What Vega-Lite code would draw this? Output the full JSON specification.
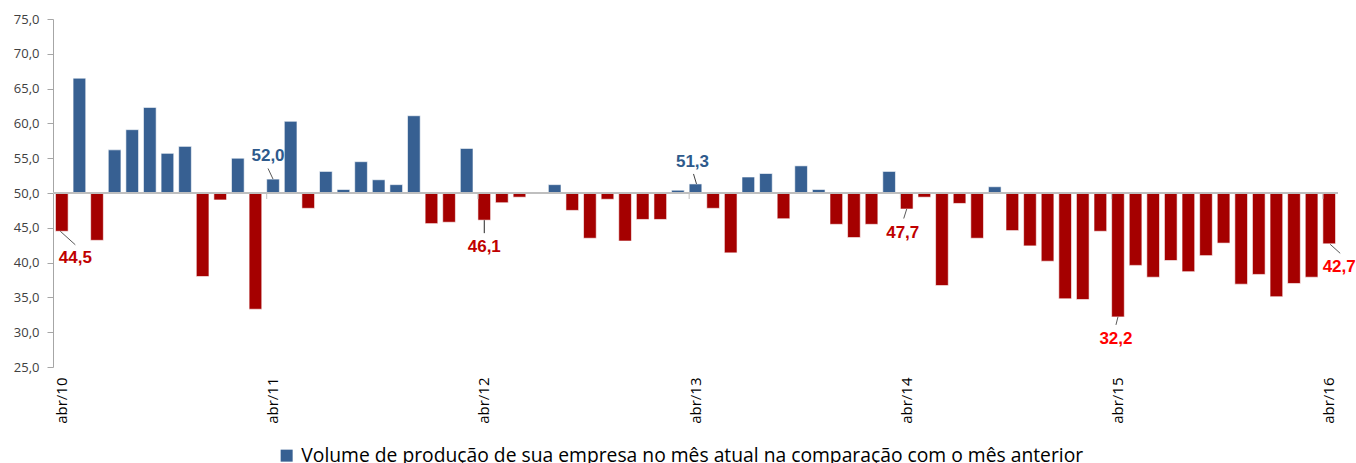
{
  "$schema": "https://vega.github.io/schema/vega-lite/v6.json",
  "autosize": {"type": "none"},
  "width": 1285,
  "height": 348,
  "padding": {"left": 53, "top": 19, "right": 18, "bottom": 96},
  "background": "#ffffff",
  "config": {
    "view": {"stroke": null},
    "locale": {"number": {"decimal": ",", "thousands": ".", "grouping": [3], "currency": ["R$", ""]}},
    "font": "Open Sans"
  },
  "data": {"values": [
    {"mes": "abr/10", "valor": 44.5, "serie": "abaixo"},
    {"mes": "mai/10", "valor": 66.5, "serie": "acima"},
    {"mes": "jun/10", "valor": 43.2, "serie": "abaixo"},
    {"mes": "jul/10", "valor": 56.2, "serie": "acima"},
    {"mes": "ago/10", "valor": 59.1, "serie": "acima"},
    {"mes": "set/10", "valor": 62.3, "serie": "acima"},
    {"mes": "out/10", "valor": 55.7, "serie": "acima"},
    {"mes": "nov/10", "valor": 56.7, "serie": "acima"},
    {"mes": "dez/10", "valor": 38.0, "serie": "abaixo"},
    {"mes": "jan/11", "valor": 49.0, "serie": "abaixo"},
    {"mes": "fev/11", "valor": 55.0, "serie": "acima"},
    {"mes": "mar/11", "valor": 33.3, "serie": "abaixo"},
    {"mes": "abr/11", "valor": 52.0, "serie": "acima"},
    {"mes": "mai/11", "valor": 60.3, "serie": "acima"},
    {"mes": "jun/11", "valor": 47.8, "serie": "abaixo"},
    {"mes": "jul/11", "valor": 53.1, "serie": "acima"},
    {"mes": "ago/11", "valor": 50.5, "serie": "acima"},
    {"mes": "set/11", "valor": 54.5, "serie": "acima"},
    {"mes": "out/11", "valor": 51.9, "serie": "acima"},
    {"mes": "nov/11", "valor": 51.2, "serie": "acima"},
    {"mes": "dez/11", "valor": 61.1, "serie": "acima"},
    {"mes": "jan/12", "valor": 45.6, "serie": "abaixo"},
    {"mes": "fev/12", "valor": 45.8, "serie": "abaixo"},
    {"mes": "mar/12", "valor": 56.4, "serie": "acima"},
    {"mes": "abr/12", "valor": 46.1, "serie": "abaixo"},
    {"mes": "mai/12", "valor": 48.6, "serie": "abaixo"},
    {"mes": "jun/12", "valor": 49.4, "serie": "abaixo"},
    {"mes": "jul/12", "valor": 50.1, "serie": "acima"},
    {"mes": "ago/12", "valor": 51.2, "serie": "acima"},
    {"mes": "set/12", "valor": 47.5, "serie": "abaixo"},
    {"mes": "out/12", "valor": 43.5, "serie": "abaixo"},
    {"mes": "nov/12", "valor": 49.1, "serie": "abaixo"},
    {"mes": "dez/12", "valor": 43.1, "serie": "abaixo"},
    {"mes": "jan/13", "valor": 46.2, "serie": "abaixo"},
    {"mes": "fev/13", "valor": 46.2, "serie": "abaixo"},
    {"mes": "mar/13", "valor": 50.4, "serie": "acima"},
    {"mes": "abr/13", "valor": 51.3, "serie": "acima"},
    {"mes": "mai/13", "valor": 47.8, "serie": "abaixo"},
    {"mes": "jun/13", "valor": 41.4, "serie": "abaixo"},
    {"mes": "jul/13", "valor": 52.3, "serie": "acima"},
    {"mes": "ago/13", "valor": 52.8, "serie": "acima"},
    {"mes": "set/13", "valor": 46.3, "serie": "abaixo"},
    {"mes": "out/13", "valor": 53.9, "serie": "acima"},
    {"mes": "nov/13", "valor": 50.5, "serie": "acima"},
    {"mes": "dez/13", "valor": 45.5, "serie": "abaixo"},
    {"mes": "jan/14", "valor": 43.6, "serie": "abaixo"},
    {"mes": "fev/14", "valor": 45.5, "serie": "abaixo"},
    {"mes": "mar/14", "valor": 53.1, "serie": "acima"},
    {"mes": "abr/14", "valor": 47.7, "serie": "abaixo"},
    {"mes": "mai/14", "valor": 49.4, "serie": "abaixo"},
    {"mes": "jun/14", "valor": 36.7, "serie": "abaixo"},
    {"mes": "jul/14", "valor": 48.5, "serie": "abaixo"},
    {"mes": "ago/14", "valor": 43.5, "serie": "abaixo"},
    {"mes": "set/14", "valor": 50.9, "serie": "acima"},
    {"mes": "out/14", "valor": 44.6, "serie": "abaixo"},
    {"mes": "nov/14", "valor": 42.4, "serie": "abaixo"},
    {"mes": "dez/14", "valor": 40.2, "serie": "abaixo"},
    {"mes": "jan/15", "valor": 34.8, "serie": "abaixo"},
    {"mes": "fev/15", "valor": 34.7, "serie": "abaixo"},
    {"mes": "mar/15", "valor": 44.5, "serie": "abaixo"},
    {"mes": "abr/15", "valor": 32.2, "serie": "abaixo"},
    {"mes": "mai/15", "valor": 39.6, "serie": "abaixo"},
    {"mes": "jun/15", "valor": 37.9, "serie": "abaixo"},
    {"mes": "jul/15", "valor": 40.3, "serie": "abaixo"},
    {"mes": "ago/15", "valor": 38.7, "serie": "abaixo"},
    {"mes": "set/15", "valor": 41.0, "serie": "abaixo"},
    {"mes": "out/15", "valor": 42.8, "serie": "abaixo"},
    {"mes": "nov/15", "valor": 36.9, "serie": "abaixo"},
    {"mes": "dez/15", "valor": 38.3, "serie": "abaixo"},
    {"mes": "jan/16", "valor": 35.1, "serie": "abaixo"},
    {"mes": "fev/16", "valor": 37.0, "serie": "abaixo"},
    {"mes": "mar/16", "valor": 37.9, "serie": "abaixo"},
    {"mes": "abr/16", "valor": 42.7, "serie": "abaixo"}
  ]},
  "encoding": {
    "x": {
      "field": "mes", "type": "ordinal", "sort": null, "title": null,
      "scale": {"paddingInner": 0.28, "paddingOuter": 0.14},
      "axis": {
        "values": ["abr/10", "abr/11", "abr/12", "abr/13", "abr/14", "abr/15", "abr/16"],
        "labelAngle": -90, "labelAlign": "right", "labelBaseline": "middle",
        "labelPadding": 10, "ticks": false, "domain": false,
        "labelFont": "Open Sans", "labelFontSize": 15, "labelColor": "#000000"
      }
    },
    "y": {
      "field": "valor", "type": "quantitative", "title": null,
      "scale": {"domain": [25, 75], "nice": false, "zero": false},
      "axis": {
        "values": [25, 30, 35, 40, 45, 50, 55, 60, 65, 70, 75],
        "format": ".1f", "grid": false,
        "domainColor": "#a6a6a6", "tickColor": "#a6a6a6", "tickSize": 6,
        "labelPadding": 8, "labelFont": "Open Sans", "labelFontSize": 13, "labelColor": "#404040"
      }
    }
  },
  "layer": [
    {
      "mark": {"type": "bar", "stroke": "#ffffff", "strokeWidth": 0.6},
      "encoding": {
        "y2": {"datum": 50},
        "color": {
          "field": "serie", "type": "nominal",
          "scale": {"domain": ["acima", "abaixo"], "range": ["#376092", "#a50000"]},
          "legend": {
            "values": ["acima"], "title": null, "orient": "none",
            "legendX": 224, "legendY": 427, "symbolType": "square", "symbolSize": 144,
            "symbolStrokeWidth": 0, "labelFont": "Open Sans", "labelFontSize": 19.3,
            "labelColor": "#000000", "labelLimit": 0, "labelOffset": 5,
            "labelExpr": "'Volume de produção de sua empresa no mês atual na comparação com o mês anterior'"
          }
        }
      }
    },
    {
      "mark": {"type": "rule", "color": "#bfbfbf", "strokeWidth": 2},
      "encoding": {"x": null, "y": {"datum": 50}}
    },
    {
      "transform": [{"filter": "indexof(datum.mes, 'abr/') === 0 && datum.mes !== 'abr/10'"}],
      "mark": {"type": "rule", "color": "#bfbfbf", "strokeWidth": 1},
      "encoding": {
        "x": {"field": "mes", "type": "ordinal", "sort": null, "bandPosition": 0},
        "y": {"datum": 50},
        "y2": {"datum": 49.14}
      }
    },
    {
      "transform": [{"filter": "datum.mes === 'abr/10'"}],
      "layer": [
        {"mark": {"type": "rule", "color": "#595959", "strokeWidth": 1, "xOffset": -1.5, "x2Offset": 13.5, "yOffset": 0, "y2Offset": 13.5},
         "encoding": {"x": {"field": "mes", "type": "ordinal", "sort": null, "bandPosition": 0.5}, "x2": {"field": "mes", "bandPosition": 0.5}, "y2": {"field": "valor"}}},
        {"mark": {"type": "text", "font": "Liberation Sans", "fontWeight": "bold", "fontSize": 17, "color": "#c00000", "dx": 13.5, "dy": 27, "baseline": "middle"},
         "encoding": {"text": {"field": "valor", "type": "quantitative", "format": ".1f"}}}
      ]
    },
    {
      "transform": [{"filter": "datum.mes === 'abr/11'"}],
      "layer": [
        {"mark": {"type": "rule", "color": "#595959", "strokeWidth": 1, "xOffset": -5, "x2Offset": 0, "yOffset": -10.6, "y2Offset": 0},
         "encoding": {"x": {"field": "mes", "type": "ordinal", "sort": null, "bandPosition": 0.5}, "x2": {"field": "mes", "bandPosition": 0.5}, "y2": {"field": "valor"}}},
        {"mark": {"type": "text", "font": "Liberation Sans", "fontWeight": "bold", "fontSize": 17, "color": "#2e5a8c", "dx": -5, "dy": -22.6, "baseline": "middle"},
         "encoding": {"text": {"field": "valor", "type": "quantitative", "format": ".1f"}}}
      ]
    },
    {
      "transform": [{"filter": "datum.mes === 'abr/12'"}],
      "layer": [
        {"mark": {"type": "rule", "color": "#262626", "strokeWidth": 1, "xOffset": 0, "x2Offset": 0, "yOffset": 0, "y2Offset": 13},
         "encoding": {"x": {"field": "mes", "type": "ordinal", "sort": null, "bandPosition": 0.5}, "x2": {"field": "mes", "bandPosition": 0.5}, "y2": {"field": "valor"}}},
        {"mark": {"type": "text", "font": "Liberation Sans", "fontWeight": "bold", "fontSize": 17, "color": "#c00000", "dx": 0, "dy": 27, "baseline": "middle"},
         "encoding": {"text": {"field": "valor", "type": "quantitative", "format": ".1f"}}}
      ]
    },
    {
      "transform": [{"filter": "datum.mes === 'abr/13'"}],
      "layer": [
        {"mark": {"type": "rule", "color": "#404040", "strokeWidth": 1, "xOffset": -2, "x2Offset": 1, "yOffset": -10, "y2Offset": 0},
         "encoding": {"x": {"field": "mes", "type": "ordinal", "sort": null, "bandPosition": 0.5}, "x2": {"field": "mes", "bandPosition": 0.5}, "y2": {"field": "valor"}}},
        {"mark": {"type": "text", "font": "Liberation Sans", "fontWeight": "bold", "fontSize": 17, "color": "#2e5a8c", "dx": -3, "dy": -22, "baseline": "middle"},
         "encoding": {"text": {"field": "valor", "type": "quantitative", "format": ".1f"}}}
      ]
    },
    {
      "transform": [{"filter": "datum.mes === 'abr/14'"}],
      "layer": [
        {"mark": {"type": "rule", "color": "#595959", "strokeWidth": 1, "xOffset": 0, "x2Offset": -3, "yOffset": 0, "y2Offset": 9.5},
         "encoding": {"x": {"field": "mes", "type": "ordinal", "sort": null, "bandPosition": 0.5}, "x2": {"field": "mes", "bandPosition": 0.5}, "y2": {"field": "valor"}}},
        {"mark": {"type": "text", "font": "Liberation Sans", "fontWeight": "bold", "fontSize": 17, "color": "#c00000", "dx": -4, "dy": 23.5, "baseline": "middle"},
         "encoding": {"text": {"field": "valor", "type": "quantitative", "format": ".1f"}}}
      ]
    },
    {
      "transform": [{"filter": "datum.mes === 'abr/15'"}],
      "layer": [
        {"mark": {"type": "rule", "color": "#595959", "strokeWidth": 1, "xOffset": 0, "x2Offset": -2, "yOffset": 0, "y2Offset": 8},
         "encoding": {"x": {"field": "mes", "type": "ordinal", "sort": null, "bandPosition": 0.5}, "x2": {"field": "mes", "bandPosition": 0.5}, "y2": {"field": "valor"}}},
        {"mark": {"type": "text", "font": "Liberation Sans", "fontWeight": "bold", "fontSize": 17, "color": "#ff0000", "dx": -2, "dy": 22, "baseline": "middle"},
         "encoding": {"text": {"field": "valor", "type": "quantitative", "format": ".1f"}}}
      ]
    },
    {
      "transform": [{"filter": "datum.mes === 'abr/16'"}],
      "layer": [
        {"mark": {"type": "rule", "color": "#595959", "strokeWidth": 1, "xOffset": 1, "x2Offset": 11, "yOffset": 0.5, "y2Offset": 9.5},
         "encoding": {"x": {"field": "mes", "type": "ordinal", "sort": null, "bandPosition": 0.5}, "x2": {"field": "mes", "bandPosition": 0.5}, "y2": {"field": "valor"}}},
        {"mark": {"type": "text", "font": "Liberation Sans", "fontWeight": "bold", "fontSize": 17, "color": "#ff0000", "dx": 10, "dy": 23, "baseline": "middle"},
         "encoding": {"text": {"field": "valor", "type": "quantitative", "format": ".1f"}}}
      ]
    }
  ]
}
